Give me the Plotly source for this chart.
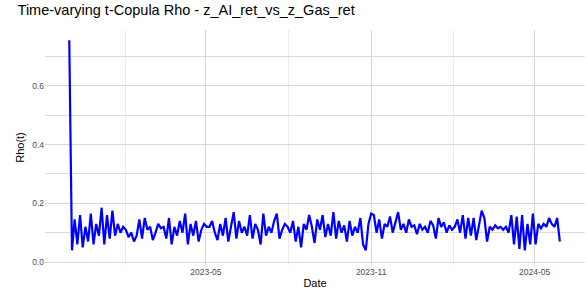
import pandas as pd
import plotly.graph_objects as go

start_date = "2022-11-30"
step = "3D"

rho = [
    # Dec 2022 - Jan 2023
    0.755, 0.04, 0.145, 0.06, 0.16, 0.05, 0.12, 0.07, 0.165, 0.06,
    0.13, 0.09, 0.185, 0.06, 0.16, 0.08, 0.175, 0.09, 0.13, 0.10,
    0.12,
    # Feb - Apr 2023
    0.11, 0.085, 0.10, 0.07, 0.09, 0.145, 0.08, 0.15, 0.11, 0.12,
    0.075, 0.10, 0.13, 0.115, 0.12, 0.08, 0.15, 0.06, 0.12, 0.09,
    0.14, 0.10, 0.165, 0.06, 0.13, 0.09, 0.14, 0.07, 0.11, 0.13,
    # May - Jul 2023
    0.12, 0.12, 0.14, 0.10, 0.075, 0.13, 0.09, 0.15, 0.07, 0.12,
    0.17, 0.08, 0.14, 0.10, 0.12, 0.09, 0.16, 0.08, 0.13, 0.11,
    0.06, 0.165, 0.09, 0.12, 0.10, 0.14, 0.165, 0.08, 0.11, 0.13,
    0.12,
    # Aug - Oct 2023
    0.10, 0.14, 0.07, 0.12, 0.05, 0.13, 0.11, 0.16, 0.12, 0.065,
    0.145, 0.11, 0.16, 0.085, 0.13, 0.09, 0.17, 0.08, 0.14, 0.10,
    0.125, 0.07, 0.14, 0.09, 0.12, 0.10, 0.15, 0.06, 0.04, 0.13,
    0.165, 0.16, 0.10,
    # Nov 2023 - Jan 2024
    0.145, 0.08, 0.13, 0.12, 0.155, 0.10, 0.14, 0.17, 0.11, 0.13,
    0.10, 0.145, 0.12, 0.125, 0.095, 0.13, 0.11, 0.12, 0.10, 0.14,
    0.125, 0.08, 0.15, 0.12, 0.135, 0.10, 0.125, 0.11,
    # Feb - May 2024
    0.12, 0.145, 0.10, 0.16, 0.08, 0.15, 0.09, 0.15, 0.075, 0.13,
    0.175, 0.15, 0.07, 0.12, 0.11, 0.125, 0.115, 0.12, 0.11, 0.12,
    0.10, 0.16, 0.06, 0.155, 0.045, 0.16, 0.04, 0.13, 0.06, 0.165,
    0.06, 0.13, 0.115, 0.13, 0.12, 0.15, 0.13, 0.12, 0.15, 0.07,
]

dates = pd.date_range(start_date, periods=len(rho), freq=step)

y_ticks = [0.0, 0.2, 0.4, 0.6]
y_tick_labels = ["0.0", "0.2", "0.4", "0.6"]

title_text = "Time-varying t-Copula Rho - z_AI_ret_vs_z_Gas_ret"

fig = go.Figure()
fig.add_trace(go.Scatter(
    x=dates, y=rho, mode="lines",
    line=dict(color="#0000ff", width=2.2),
    showlegend=False,
))

font_family = "Liberation Sans, Arial, sans-serif"

fig.update_layout(
    width=586, height=291,
    margin=dict(l=45, r=1, t=30, b=26, autoexpand=False),
    paper_bgcolor="white", plot_bgcolor="white",
    font=dict(family=font_family, color="#000000"),
    title=dict(text=title_text, x=0.03, xanchor="left", y=0.985, yanchor="top",
               font=dict(size=14.5, color="#000000")),
    xaxis=dict(
        title=dict(text="Date", font=dict(size=11), standoff=3),
        automargin=False,
        type="date",
        range=["2022-11-03", "2024-06-26"],
        tick0="2023-05-01", dtick="M6", tickformat="%Y-%m",
        tickfont=dict(size=8.5, color="#4d4d4d"),
        showgrid=True, gridcolor="#d6d6d6", gridwidth=1,
        minor=dict(dtick="M3", tick0="2023-02-01", showgrid=True,
                   gridcolor="#ebebeb", gridwidth=1),
        zeroline=False, showline=False, ticks="",
    ),
    yaxis=dict(
        title=dict(text="Rho(t)", font=dict(size=11), standoff=5),
        automargin=False,
        range=[-0.01, 0.79],
        tickvals=y_ticks, ticktext=y_tick_labels,
        tickfont=dict(size=8.5, color="#4d4d4d"),
        showgrid=True, gridcolor="#d6d6d6", gridwidth=1,
        minor=dict(tickvals=[0.1, 0.3, 0.5, 0.7], showgrid=True,
                   gridcolor="#dcdcdc", gridwidth=1),
        zeroline=False, showline=False, ticks="",
    ),
)

fig.write_html("out.html", config={"displayModeBar": False},
               post_script="document.body.style.margin='0';")
